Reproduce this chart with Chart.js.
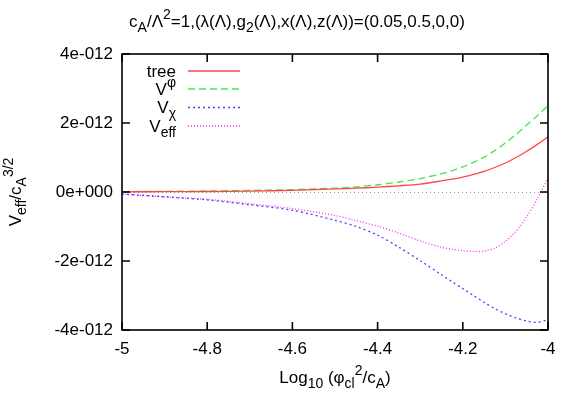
<!DOCTYPE html>
<html>
<head>
<meta charset="utf-8">
<script src="https://cdn.jsdelivr.net/npm/chart.js@4.4.1/dist/chart.umd.min.js"></script>
<style>
  html, body { margin: 0; padding: 0; background: #fff; }
  #wrap { width: 581px; height: 407px; }
</style>
</head>
<body>
<div id="wrap"><canvas id="potChart" width="581" height="407"></canvas></div>
<script>
// x = Log10(phi_cl^2 / c_A), y values are in units of 1e-12
const logPhi = [-5.0, -4.9, -4.8, -4.7, -4.6, -4.5, -4.45, -4.4, -4.35, -4.3, -4.25, -4.225, -4.2, -4.175, -4.15, -4.125, -4.1, -4.075, -4.05, -4.025, -4.0];
const vTree  = [0.005, 0.01, 0.015, 0.025, 0.05, 0.09, 0.11, 0.14, 0.18, 0.23, 0.32, 0.37, 0.43, 0.51, 0.60, 0.71, 0.84, 1.00, 1.18, 1.38, 1.60];
const vPhi   = [0.01, 0.02, 0.03, 0.045, 0.07, 0.11, 0.15, 0.21, 0.29, 0.39, 0.53, 0.62, 0.73, 0.86, 1.01, 1.20, 1.42, 1.67, 1.94, 2.21, 2.50];
const vChi   = [-0.06, -0.14, -0.23, -0.37, -0.53, -0.82, -1.00, -1.25, -1.60, -1.99, -2.40, -2.60, -2.80, -3.00, -3.20, -3.38, -3.53, -3.65, -3.74, -3.78, -3.70];
const vEff   = [-0.06, -0.14, -0.21, -0.34, -0.48, -0.68, -0.83, -0.99, -1.19, -1.42, -1.60, -1.66, -1.70, -1.72, -1.71, -1.63, -1.43, -1.14, -0.72, -0.20, 0.41];

const xTicks = [-5, -4.8, -4.6, -4.4, -4.2, -4];
const xTickLabels = ['-5', '-4.8', '-4.6', '-4.4', '-4.2', '-4'];
const yTicks = [-4, -2, 0, 2, 4];
const yTickLabels = ['-4e-012', '-2e-012', '0e+000', '2e-012', '4e-012'];

const FONT = '"Liberation Sans", Arial, Helvetica, sans-serif';
const FS = 17;

const series = [
    { data: vTree, color: 'rgb(255,70,70)', dash: [], label: [['tree']] },
    { data: vPhi, color: 'rgb(70,230,70)', dash: [7, 4], label: [['V'], ['\u03c6', 'sup']] },
    { data: vChi, color: 'rgb(70,70,255)', dash: [2, 3], label: [['V'], ['\u03c7', 'sub']] },
    { data: vEff, color: 'rgb(255,40,255)', dash: [1, 2], label: [['V'], ['eff', 'sub']] }
];

// draws text pieces with sub/superscripts, gnuplot style
function drawRich(ctx, parts, x, y, align, size) {
    const small = Math.round(size * 0.8);
    let w = 0;
    const widths = parts.map(p => {
        ctx.font = (p[1] ? small : size) + 'px ' + FONT;
        const pw = ctx.measureText(p[0]).width;
        w += pw;
        return pw;
    });
    let cx = align === 'center' ? x - w / 2 : align === 'right' ? x - w : x;
    ctx.textAlign = 'left';
    ctx.textBaseline = 'alphabetic';
    parts.forEach((p, i) => {
        ctx.font = (p[1] ? small : size) + 'px ' + FONT;
        let dy = 0;
        if (p[1] === 'sub') dy = size * 0.3;
        if (p[1] === 'sup') dy = -size * 0.45;
        ctx.fillText(p[0], cx, y + dy);
        cx += widths[i];
    });
}

const decorations = {
    id: 'decorations',
    beforeDatasetsDraw(chart) {
        const { ctx, chartArea: a, scales: { y } } = chart;
        const y0 = Math.round(y.getPixelForValue(0)) + 0.5;
        ctx.save();
        ctx.strokeStyle = 'rgb(150,150,150)';
        ctx.lineWidth = 1;
        ctx.setLineDash([1, 3]);
        ctx.beginPath();
        ctx.moveTo(a.left, y0);
        ctx.lineTo(a.right, y0);
        ctx.stroke();
        ctx.restore();
    },
    afterDraw(chart) {
        const { ctx, chartArea: a, scales: { x, y } } = chart;
        ctx.save();
        ctx.strokeStyle = '#000';
        ctx.lineWidth = 1.6;
        ctx.setLineDash([]);
        ctx.strokeRect(a.left, a.top, a.right - a.left, a.bottom - a.top);

        // inward ticks on all four sides
        const tl = 8;
        ctx.beginPath();
        xTicks.forEach(v => {
            const px = x.getPixelForValue(v);
            ctx.moveTo(px, a.bottom); ctx.lineTo(px, a.bottom - tl);
            ctx.moveTo(px, a.top); ctx.lineTo(px, a.top + tl);
        });
        yTicks.forEach(v => {
            const py = y.getPixelForValue(v);
            ctx.moveTo(a.left, py); ctx.lineTo(a.left + tl, py);
            ctx.moveTo(a.right, py); ctx.lineTo(a.right - tl, py);
        });
        ctx.stroke();

        ctx.fillStyle = '#000';
        // title
        drawRich(ctx, [['c'], ['A', 'sub'], ['/\u039b'], ['2', 'sup'],
            ['=1,(\u03bb(\u039b),g'], ['2', 'sub'], ['(\u039b),x(\u039b),z(\u039b))=(0.05,0.5,0,0)']],
            297, 27, 'center', FS);

        // x axis title
        drawRich(ctx, [['Log'], ['10', 'sub'], [' (\u03c6'], ['cl', 'sub'], ['2', 'sup'], ['/c'], ['A', 'sub'], [')']],
            (a.left + a.right) / 2, 383, 'center', FS);

        // y axis title
        ctx.save();
        ctx.translate(21, (a.top + a.bottom) / 2);
        ctx.rotate(-Math.PI / 2);
        drawRich(ctx, [['V'], ['eff', 'sub'], ['/c'], ['A', 'sub'], ['3/2', 'sup']], 0, 0, 'center', FS);
        ctx.restore();

        // key
        const rows = [71, 89, 107.5, 126];
        series.forEach((s, i) => {
            ctx.fillStyle = '#000';
            drawRich(ctx, s.label, 176, rows[i] + 5.5, 'right', FS);
            ctx.strokeStyle = s.color;
            ctx.lineWidth = 1.3;
            ctx.setLineDash(s.dash);
            ctx.beginPath();
            ctx.moveTo(188, rows[i]);
            ctx.lineTo(240, rows[i]);
            ctx.stroke();
        });
        ctx.restore();
    }
};

new Chart(document.getElementById('potChart').getContext('2d'), {
    type: 'scatter',
    data: {
        datasets: series.map(s => ({
            data: logPhi.map((lx, i) => ({ x: lx, y: s.data[i] })),
            showLine: true,
            borderColor: s.color,
            borderWidth: 1.3,
            borderDash: s.dash,
            pointRadius: 0,
            tension: 0.3,
            fill: false
        }))
    },
    options: {
        responsive: false,
        animation: false,
        devicePixelRatio: 1,
        layout: { padding: { top: 54, right: 33, left: 0, bottom: 0 } },
        plugins: { legend: { display: false }, title: { display: false }, tooltip: { enabled: false } },
        scales: {
            x: {
                type: 'linear',
                min: -5,
                max: -4,
                afterBuildTicks: s => { s.ticks = xTicks.map(v => ({ value: v })); },
                afterFit: s => { s.height = 77; },
                grid: { display: false, drawTicks: false },
                border: { display: false },
                ticks: {
                    color: '#000',
                    font: { family: FONT, size: FS },
                    padding: 9,
                    maxRotation: 0,
                    autoSkip: false,
                    callback: (v, i) => xTickLabels[i]
                }
            },
            y: {
                type: 'linear',
                min: -4,
                max: 4,
                afterBuildTicks: s => { s.ticks = yTicks.map(v => ({ value: v })); },
                afterFit: s => { s.width = 122; },
                grid: { display: false, drawTicks: false },
                border: { display: false },
                ticks: {
                    color: '#000',
                    font: { family: FONT, size: FS },
                    padding: 9,
                    autoSkip: false,
                    callback: (v, i) => yTickLabels[i]
                }
            }
        }
    },
    plugins: [decorations]
});
</script>
</body>
</html>
